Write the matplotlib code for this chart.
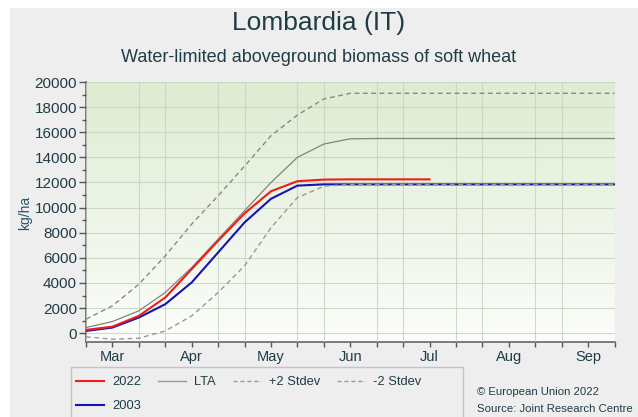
import numpy as np
import matplotlib
matplotlib.use('Agg')
import matplotlib.pyplot as plt
from matplotlib.patches import Rectangle
from matplotlib.lines import Line2D

plt.rcParams['font.family'] = ['Liberation Sans', 'DejaVu Sans']

# Dekads from the last dekad of February to the second dekad of September
dekads = np.arange(21)
month_pos = [1, 4, 7, 10, 13, 16, 19]
month_lab = ['Mar', 'Apr', 'May', 'Jun', 'Jul', 'Aug', 'Sep']

# Biomass (kg/ha)
lta = [450, 930, 1780, 3240, 5230, 7490, 9750, 12000, 14000, 15060, 15480,
       15500, 15500, 15500, 15500, 15500, 15500, 15500, 15500, 15500, 15500]
plus2 = [1115, 2180, 3900, 6160, 8690, 10940, 13300, 15720, 17370, 18650, 19100,
         19100, 19100, 19100, 19100, 19100, 19100, 19100, 19100, 19100, 19100]
minus2 = [-290, -480, -400, 180, 1380, 3240, 5360, 8400, 10800, 11700, 11850,
          11850, 11850, 11850, 11850, 11850, 11850, 11850, 11850, 11850, 11850]
y2022 = [265, 520, 1380, 2840, 5100, 7360, 9540, 11300, 12100, 12230, 12250,
         12250, 12250, 12250]
y2003 = [180, 450, 1250, 2310, 4040, 6430, 8820, 10700, 11750, 11850, 11850,
         11850, 11850, 11850, 11850, 11850, 11850, 11850, 11850, 11850, 11850]

TXT = '#1f3d45'
BG = '#eeeeee'

fig = plt.figure(figsize=(6.38, 4.17), dpi=100, facecolor='white')
# grey panel with a thin white margin on the left and top
fig.patches.append(Rectangle((10/638, 0), 1, 1-8/417, transform=fig.transFigure,
                             facecolor=BG, edgecolor='none', zorder=-10))

ax = fig.add_axes([86/638, 75/417, 528.5/638, 260/417])
ymin, ymax = -700, 20000
xmin, xmax = 0, 20

# green to white background
top = np.array([222, 236, 210]) / 255.
bot = np.array([252, 253, 251]) / 255.
t = np.linspace(0, 1, 256)[:, None]
grad = (top[None, :] * (1 - t) + bot[None, :] * t)[:, None, :]
ax.imshow(grad, extent=(xmin, xmax, ymin, ymax), aspect='auto', origin='upper', zorder=0)

ax.set_xlim(xmin, xmax)
ax.set_ylim(ymin, ymax)
ax.set_xticks(month_pos)
ax.set_xticklabels(month_lab)
ax.set_xticks(dekads, minor=True)
ax.set_yticks(np.arange(0, 20001, 2000))
ax.set_yticks(np.arange(0, 20001, 1000), minor=True)
ax.grid(True, which='minor', axis='x', color='#c5d3bd', lw=0.8, alpha=0.8, zorder=1)
ax.grid(True, which='major', axis='y', color='#c5d3bd', lw=0.8, alpha=0.8, zorder=1)
ax.set_axisbelow(False)

ax.tick_params(axis='both', which='both', colors='#555555', labelcolor=TXT, direction='out')
ax.tick_params(axis='x', which='both', length=3.5, width=1.0, labelsize=10.5, pad=2)
ax.tick_params(axis='y', which='major', length=5, width=1.0, labelsize=11, pad=1.5)
ax.tick_params(axis='y', which='minor', length=3, width=1.0)
for s in ['top', 'right']:
    ax.spines[s].set_visible(False)
for s in ['left', 'bottom']:
    ax.spines[s].set_color('#666666')
    ax.spines[s].set_linewidth(1.2)

fig.text(25/638, 1 - 213/417, 'kg/ha', rotation=90, ha='center', va='center',
         color='#2b5565', fontsize=10)

l22, = ax.plot(dekads[:len(y2022)], y2022, color='#ee1c1c', lw=1.5, zorder=5)
l03, = ax.plot(dekads, y2003, color='#1414b4', lw=1.5, zorder=4)
llta, = ax.plot(dekads, lta, color='#7d857d', lw=0.9, zorder=3)
lp2, = ax.plot(dekads, plus2, color='#888888', lw=1.0, dashes=(3.5, 2.5), zorder=3)
lm2, = ax.plot(dekads, minus2, color='#999999', lw=1.0, dashes=(3.5, 2.5), zorder=6)

fig.text(0.5, 1 - 23/417, 'Lombardia (IT)', ha='center', va='center', fontsize=19, color=TXT)
fig.text(0.5, 1 - 57/417, 'Water-limited aboveground biomass of soft wheat',
         ha='center', va='center', fontsize=13, color=TXT)

# legend box, open at the bottom edge of the figure
fig.patches.append(Rectangle((71/638, -0.05), 392/638, 0.05 + (417-367)/417,
                             transform=fig.transFigure, facecolor='none',
                             edgecolor='#c4c4c4', lw=1.0, zorder=1))
handles = [Line2D([], [], color='#ee1c1c', lw=1.5),
           Line2D([], [], color='#1414b4', lw=1.5),
           Line2D([], [], color='#999999', lw=1.0),
           Line2D([], [], color='#999999', lw=1.0, dashes=(3, 2)),
           Line2D([], [], color='#999999', lw=1.0, dashes=(3, 2))]
labels = ['2022', '2003', 'LTA', '+2 Stdev', '-2 Stdev']
leg = fig.legend(handles, labels, ncol=4, loc='upper left',
                 bbox_to_anchor=(76/638, 1 - 376/417), frameon=False,
                 fontsize=9.3, handlelength=2.2, handletextpad=0.6,
                 columnspacing=1.3, labelspacing=0.95, borderpad=0, borderaxespad=0)
for txt in leg.get_texts():
    txt.set_color(TXT)

fig.text(476.7/638, 1 - 391.7/417, '\u00a9 European Union 2022', ha='left', va='center',
         fontsize=8.2, color=TXT)
fig.text(476.7/638, 1 - 409/417, 'Source: Joint Research Centre', ha='left', va='center',
         fontsize=8.2, color=TXT)

fig.savefig('out.png', dpi=100, facecolor=fig.get_facecolor())
